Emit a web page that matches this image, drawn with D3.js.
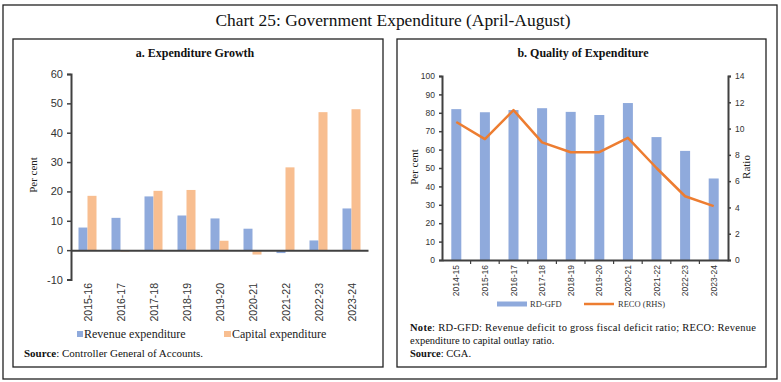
<!DOCTYPE html>
<html><head><meta charset="utf-8">
<script src="https://cdn.jsdelivr.net/npm/d3@7"></script>
<style>body{margin:0;background:#fff}svg{display:block}</style>
</head><body>
<svg id="c" width="781" height="382"></svg>
<script>
// ---- Data ----
const yearsA = ["2015-16","2016-17","2017-18","2018-19","2019-20","2020-21","2021-22","2022-23","2023-24"];
const revenueExp = [7.7, 11.0, 18.3, 11.8, 10.8, 7.3, -1.0, 3.3, 14.2];
const capitalExp = [18.5, -0.5, 20.2, 20.5, 3.2, -1.5, 28.2, 47.0, 48.0];
const ticksA = [-10, 0, 10, 20, 30, 40, 50, 60];

const yearsB = ["2014-15","2015-16","2016-17","2017-18","2018-19","2019-20","2020-21","2021-22","2022-23","2023-24"];
const rdGfd = [82.0, 80.3, 81.5, 82.5, 80.5, 78.8, 85.3, 66.8, 59.3, 44.3];
const reco = [10.5, 9.2, 11.4, 8.95, 8.2, 8.2, 9.3, 7.0, 4.85, 4.1];
const ticksBL = [0,10,20,30,40,50,60,70,80,90,100];
const ticksBR = [0,2,4,6,8,10,12,14];

const BLUE = "#8faadc", PEACH = "#f8be90", ORANGE = "#ed7d31", AX = "#404040";
const serif = "'Liberation Serif', 'DejaVu Serif', serif";
const sans = "'Liberation Sans', Arial, sans-serif";
const fmt = d => String(d);

const svg = d3.select("#c");
// borders
svg.append("rect").attr("x",3).attr("y",5).attr("width",774).attr("height",374)
  .attr("fill","none").attr("stroke","#222").attr("stroke-width",1.3);
svg.append("rect").attr("x",13).attr("y",39).attr("width",370).attr("height",328)
  .attr("fill","none").attr("stroke","#222").attr("stroke-width",1.3);
svg.append("rect").attr("x",397).attr("y",39).attr("width",369).attr("height",328)
  .attr("fill","none").attr("stroke","#222").attr("stroke-width",1.3);

svg.append("text").attr("x",393).attr("y",26).attr("text-anchor","middle")
  .attr("font-family",serif).attr("font-size",17).attr("fill","#111")
  .attr("textLength",355).attr("lengthAdjust","spacingAndGlyphs")
  .text("Chart 25: Government Expenditure (April-August)");

// ---- Panel a ----
const ga = svg.append("g");
ga.append("text").attr("x",195).attr("y",57).attr("text-anchor","middle")
  .attr("font-family",serif).attr("font-weight","bold").attr("font-size",12).attr("fill","#111")
  .text("a. Expenditure Growth");

const xA = d3.scaleBand().domain(yearsA).range([71,368]);
const yA = d3.scaleLinear().domain([-10,60]).range([279.5,74]);
const bw = 9;

yearsA.forEach((yr,i)=>{
  const cx = xA(yr) + xA.bandwidth()/2;
  const r = revenueExp[i], c = capitalExp[i];
  ga.append("rect").attr("x",cx-9).attr("width",bw)
    .attr("y",yA(Math.max(0,r))).attr("height",Math.abs(yA(r)-yA(0))).attr("fill",BLUE);
  ga.append("rect").attr("x",cx).attr("width",bw)
    .attr("y",yA(Math.max(0,c))).attr("height",Math.abs(yA(c)-yA(0))).attr("fill",PEACH);
});

const yAxA = ga.append("g").attr("transform","translate(71,0)")
  .call(d3.axisLeft(yA).tickValues(ticksA).tickFormat(fmt).tickSize(4).tickPadding(4));
yAxA.select(".domain").attr("stroke",AX).attr("stroke-width",2);
yAxA.selectAll(".tick line").attr("stroke",AX).attr("stroke-width",1.5);
yAxA.selectAll("text").attr("font-family",sans).attr("font-size",11).attr("fill","#333");

const xAxA = ga.append("g").attr("transform",`translate(0,${yA(0)})`)
  .call(d3.axisBottom(xA).tickSize(0).tickFormat(""));
xAxA.select(".domain").attr("stroke",AX).attr("stroke-width",2);
yearsA.forEach(yr=>{
  ga.append("text").attr("transform",`translate(${xA(yr)+xA.bandwidth()/2+4},${283}) rotate(-90)`)
    .attr("text-anchor","end").attr("font-family",sans).attr("font-size",10.5).attr("fill","#333")
    .text(yr);
});
ga.append("text").attr("transform","translate(37,175) rotate(-90)").attr("text-anchor","middle")
  .attr("font-family",serif).attr("font-size",11).attr("fill","#222").text("Per cent");

// legend a
ga.append("rect").attr("x",77).attr("y",331).attr("width",6).attr("height",6).attr("fill",BLUE);
ga.append("text").attr("x",84).attr("y",338).attr("font-family",serif).attr("font-size",12).attr("fill","#222").text("Revenue expenditure");
ga.append("rect").attr("x",224).attr("y",331).attr("width",7).attr("height",6).attr("fill",PEACH);
ga.append("text").attr("x",232).attr("y",338).attr("font-family",serif).attr("font-size",12).attr("fill","#222").text("Capital expenditure");
const srcA = ga.append("text").attr("x",24).attr("y",357).attr("font-family",serif).attr("font-size",11).attr("fill","#111");
srcA.append("tspan").attr("font-weight","bold").text("Source");
srcA.append("tspan").text(": Controller General of Accounts.");

// ---- Panel b ----
const gb = svg.append("g");
gb.append("text").attr("x",583).attr("y",57).attr("text-anchor","middle")
  .attr("font-family",serif).attr("font-weight","bold").attr("font-size",12).attr("fill","#111")
  .text("b. Quality of Expenditure");

const xB = d3.scaleBand().domain(yearsB).range([442,728]);
const yBL = d3.scaleLinear().domain([0,100]).range([260,76]);
const yBR = d3.scaleLinear().domain([0,14]).range([260,76]);

gb.selectAll("rect.bar").data(yearsB).join("rect").attr("class","bar")
  .attr("x",d=>xB(d)+xB.bandwidth()/2-5).attr("width",10)
  .attr("y",(d,i)=>yBL(rdGfd[i])).attr("height",(d,i)=>yBL(0)-yBL(rdGfd[i])).attr("fill",BLUE);

const line = d3.line().x((d,i)=>xB(yearsB[i])+xB.bandwidth()/2).y(d=>yBR(d));
gb.append("path").datum(reco).attr("d",line).attr("fill","none").attr("stroke",ORANGE)
  .attr("stroke-width",2.5).attr("stroke-linejoin","round");

const yAxBL = gb.append("g").attr("transform","translate(442,0)")
  .call(d3.axisLeft(yBL).tickValues(ticksBL).tickFormat(fmt).tickSize(3).tickPadding(4));
const yAxBR = gb.append("g").attr("transform","translate(728,0)")
  .call(d3.axisRight(yBR).tickValues(ticksBR).tickFormat(fmt).tickSize(3).tickPadding(4));
[yAxBL,yAxBR].forEach(a=>{
  a.select(".domain").attr("stroke",AX).attr("stroke-width",2);
  a.selectAll(".tick line").attr("stroke",AX).attr("stroke-width",1.5);
  a.selectAll("text").attr("font-family",sans).attr("font-size",8.5).attr("fill","#333");
});
const xAxB = gb.append("g").attr("transform","translate(0,260)")
  .call(d3.axisBottom(xB).tickSize(0).tickFormat(""));
xAxB.select(".domain").attr("stroke",AX).attr("stroke-width",2);
xB.domain().forEach((d,i)=>{
  if(i===0) return;
  gb.append("line").attr("x1",xB(d)).attr("x2",xB(d)).attr("y1",260).attr("y2",264)
    .attr("stroke",AX).attr("stroke-width",1.2);
});
yearsB.forEach(yr=>{
  gb.append("text").attr("transform",`translate(${xB(yr)+xB.bandwidth()/2+3},${265}) rotate(-90)`)
    .attr("text-anchor","end").attr("font-family",sans).attr("font-size",8.5).attr("fill","#333")
    .text(yr);
});
gb.append("text").attr("transform","translate(418,167) rotate(-90)").attr("text-anchor","middle")
  .attr("font-family",serif).attr("font-size",11).attr("fill","#222").text("Per cent");
gb.append("text").attr("transform","translate(750,167) rotate(-90)").attr("text-anchor","middle")
  .attr("font-family",serif).attr("font-size",11).attr("fill","#222").text("Ratio");

// legend b
gb.append("rect").attr("x",497).attr("y",301.5).attr("width",30).attr("height",5).attr("fill",BLUE);
gb.append("text").attr("x",530).attr("y",307).attr("font-family",serif).attr("font-size",8.5).attr("fill","#333").text("RD-GFD");
gb.append("line").attr("x1",584).attr("x2",614).attr("y1",304).attr("y2",304).attr("stroke",ORANGE).attr("stroke-width",2.5);
gb.append("text").attr("x",618).attr("y",307).attr("font-family",serif).attr("font-size",8.5).attr("fill","#333").text("RECO (RHS)");

const n1 = gb.append("text").attr("x",410).attr("y",331).attr("font-family",serif).attr("font-size",10.5).attr("fill","#111")
  .attr("textLength",346).attr("lengthAdjust","spacing");
n1.append("tspan").attr("font-weight","bold").text("Note");
n1.append("tspan").text(": RD-GFD: Revenue deficit to gross fiscal deficit ratio; RECO: Revenue");
gb.append("text").attr("x",410).attr("y",344).attr("font-family",serif).attr("font-size",10.5).attr("fill","#111")
  .text("expenditure to capital outlay ratio.");
const s2 = gb.append("text").attr("x",410).attr("y",357).attr("font-family",serif).attr("font-size",10.5).attr("fill","#111");
s2.append("tspan").attr("font-weight","bold").text("Source");
s2.append("tspan").text(": CGA.");
</script>
</body></html>
